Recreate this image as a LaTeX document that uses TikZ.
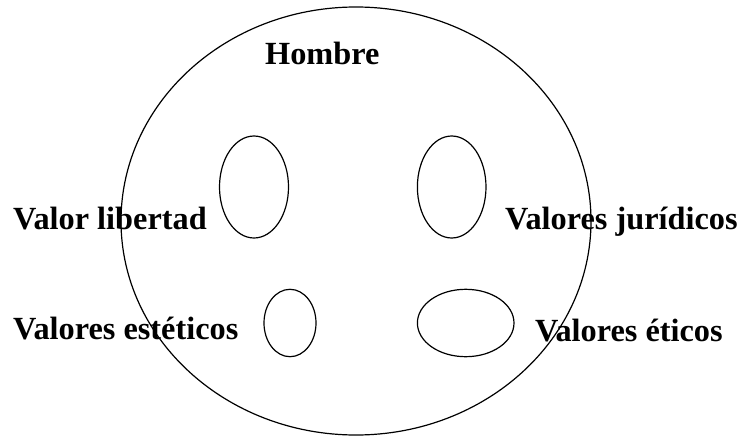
\documentclass[tikz,border=0pt]{standalone}
\usepackage{fontspec}
\setmainfont{Liberation Serif}
\begin{document}
\begin{tikzpicture}[x=1pt,y=-1pt,
  ring/.style={draw=black,line width=1.2pt},
  lbl/.style={anchor=base west,inner sep=0pt,font=\fontsize{32.3}{37}\selectfont\bfseries}]
\useasboundingbox (0,0) rectangle (739,436);
\draw[ring] (356,221) ellipse [x radius=235, y radius=214];
\draw[ring] (254,187) ellipse [x radius=34.5, y radius=51];
\draw[ring] (451.7,187) ellipse [x radius=34.3, y radius=51];
\draw[ring] (290,323) ellipse [x radius=26, y radius=33.7];
\draw[ring] (465.7,323) ellipse [x radius=48.3, y radius=33.7];
\node[lbl] (hombre) at (265,65) {Hombre};
\node[lbl] (libertad) at (13,229) {Valor libertad};
\node[lbl] (juridicos) at (505,229) {Valores jurídicos};
\node[lbl] (esteticos) at (13,339) {Valores estéticos};
\node[lbl] (eticos) at (535,341.5) {Valores éticos};
\end{tikzpicture}
\end{document}
